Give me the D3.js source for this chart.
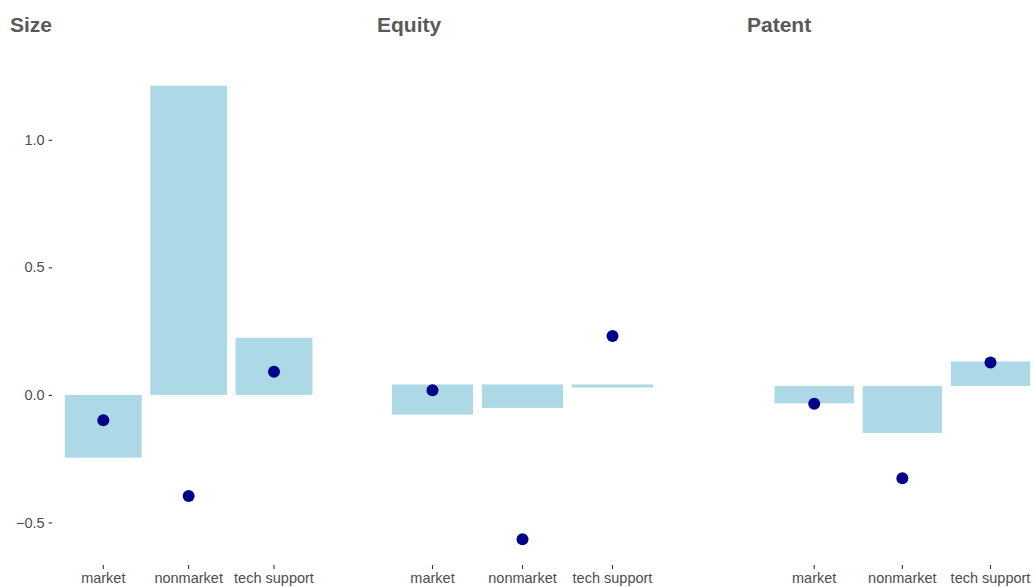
<!DOCTYPE html>
<html>
<head>
<meta charset="utf-8">
<script src="https://cdn.jsdelivr.net/npm/d3@7"></script>
<style>
  html, body { margin: 0; padding: 0; background: #fff; }
  svg { display: block; font-family: "Liberation Sans", Arial, sans-serif; }
</style>
</head>
<body>
<svg id="chart" width="1034" height="587"></svg>
<script>
// ---- data ----
const panels = ["Size", "Equity", "Patent"];
const categories = ["market", "nonmarket", "tech support"];
const barStart = [
  [0, 0, 0],
  [0.041, 0.041, 0.041],
  [0.035, 0.035, 0.035]
];
const barEnd = [
  [-0.246, 1.212, 0.224],
  [-0.077, -0.051, 0.029],
  [-0.033, -0.149, 0.131]
];
const pointValues = [
  [-0.099, -0.396, 0.091],
  [0.018, -0.566, 0.231],
  [-0.035, -0.327, 0.127]
];
const yTicks = [-0.5, 0.0, 0.5, 1.0];

// ---- layout ----
const panelX = [[52.1, 325.2], [378.5, 666.5], [761.3, 1043.4]];
const titleX = [10, 377, 747];
const plotTop = 63, plotBottom = 562, axisY = 565;

const svg = d3.select("#chart");
const y = d3.scaleLinear().domain([-0.655, 1.301]).range([plotBottom, plotTop]);

panels.forEach((name, p) => {
  const x = d3.scaleBand().domain(categories).range(panelX[p])
    .paddingInner(0.1).paddingOuter(0.15);
  const g = svg.append("g");

  const rows = categories.map((c, i) => ({
    c, s: barStart[p][i], e: barEnd[p][i], v: pointValues[p][i]
  }));

  g.selectAll("rect.bar").data(rows).enter().append("rect")
    .attr("class", "bar")
    .attr("x", d => x(d.c))
    .attr("width", x.bandwidth())
    .attr("y", d => y(Math.max(d.s, d.e)))
    .attr("height", d => Math.max(1, Math.abs(y(d.s) - y(d.e))))
    .attr("fill", "#ADD8E6");

  g.selectAll("circle.pt").data(rows).enter().append("circle")
    .attr("class", "pt")
    .attr("cx", d => x(d.c) + x.bandwidth() / 2)
    .attr("cy", d => y(d.v))
    .attr("r", 6)
    .attr("fill", "#00008B");

  // x axis
  const xa = g.append("g").attr("transform", `translate(0,${axisY})`)
    .call(d3.axisBottom(x).tickSize(4).tickPadding(3.5));
  xa.select(".domain").remove();
  xa.selectAll(".tick line").attr("stroke", "#333").attr("stroke-width", 1.1);
  xa.selectAll(".tick text").attr("fill", "#4d4d4d")
    .attr("font-size", "14.5px").attr("dy", "0.71em");

  // y axis (first panel only)
  if (p === 0) {
    const ya = g.append("g").attr("transform", `translate(${panelX[0][0]},0)`)
      .call(d3.axisLeft(y).tickValues(yTicks).tickFormat(d3.format(".1f"))
        .tickSize(3.5).tickPadding(4));
    ya.select(".domain").remove();
    ya.selectAll(".tick line").attr("stroke", "#333").attr("stroke-width", 1.1);
    ya.selectAll(".tick text").attr("fill", "#4d4d4d").attr("font-size", "14.5px");
  }

  // title
  svg.append("text")
    .attr("x", titleX[p]).attr("y", 32)
    .attr("font-size", "21px").attr("font-weight", "bold")
    .attr("fill", "#595959")
    .text(name);
});
</script>
</body>
</html>
